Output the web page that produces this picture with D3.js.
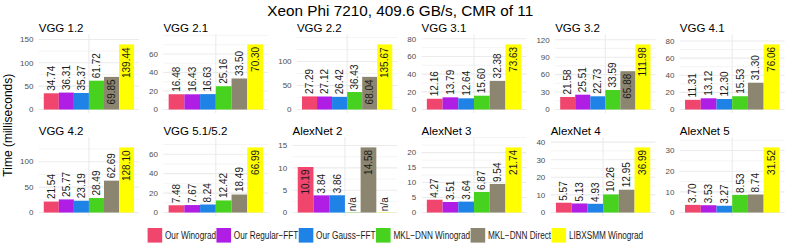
<!DOCTYPE html>
<html><head><meta charset="utf-8">
<script src="https://cdn.jsdelivr.net/npm/d3@7"></script>
<style>
body{margin:0;background:#fff}
svg{display:block}
text{font-family:"Liberation Sans",Arial,Helvetica,sans-serif}
</style>
</head><body>
<svg id="c" width="789" height="247"></svg>
<script>
const chartTitle = "Xeon Phi 7210, 409.6 GB/s, CMR of 11";
const yAxisTitle = "Time (milliseconds)";
const panelNames = ["VGG 1.2","VGG 2.1","VGG 2.2","VGG 3.1","VGG 3.2","VGG 4.1",
                    "VGG 4.2","VGG 5.1/5.2","AlexNet 2","AlexNet 3","AlexNet 4","AlexNet 5"];
const seriesNames = ["Our Winograd","Our Regular\u2212FFT","Our Gauss\u2212FFT","MKL\u2212DNN Winograd","MKL\u2212DNN Direct","LIBXSMM Winograd"];
const ourWinograd   = [34.74,16.48,27.29,12.16,21.58,11.31,21.54,7.48,10.19,4.27,5.57,3.70];
const ourRegularFFT = [36.31,16.43,27.12,13.79,25.51,13.12,25.77,7.67,3.84,3.51,5.13,3.53];
const ourGaussFFT   = [35.37,16.63,26.42,12.64,22.73,12.30,23.19,8.24,3.86,3.64,4.93,3.27];
const mklWinograd   = [61.72,25.16,36.43,15.60,33.59,15.53,28.49,12.42,null,6.87,10.26,8.53];
const mklDirect     = [69.85,33.50,68.04,32.38,65.88,31.30,62.69,18.49,14.58,9.54,12.95,8.74];
const libxsmm       = [139.44,70.30,135.67,73.63,111.98,76.06,128.10,66.99,null,21.74,36.99,31.52];
const yTicks = [[0,50,100,150],[0,20,40,60],[0,50,100],[0,20,40,60,80],[0,30,60,90,120],[0,20,40,60,80],
                [0,50,100],[0,20,40,60],[0,5,10,15],[0,5,10,15,20],[0,10,20,30,40],[0,10,20,30]];
const seriesColors = ["#F0466E","#B01EE6","#1E82E6","#46D21E","#8C8670","#FFFF00"];

const seriesValues = [ourWinograd, ourRegularFFT, ourGaussFFT, mklWinograd, mklDirect, libxsmm];

const svg = d3.select("#c");
const cellPitch = 129.1, cellLeft0 = 20, cellInner = 119.1;
const rowTop = [34.3, 137.3], panelH = 78.8;

svg.append("text").attr("x",400.3).attr("y",15.5).attr("text-anchor","middle")
  .style("font-size","15.3px").attr("fill","#000").text(chartTitle);
svg.append("text").attr("transform","translate(12.3,125.2) rotate(-90)").attr("text-anchor","middle")
  .style("font-size","12px").attr("fill","#000").text(yAxisTitle);

function minorBreaks(b, lo, hi){
  const bd = b[1]-b[0];
  let bb = b.slice();
  if (lo < bb[0]) bb.unshift(bb[0]-bd);
  if (hi > bb[bb.length-1]) bb.push(bb[bb.length-1]+bd);
  const out=[];
  for(let k=0;k<bb.length-1;k++){ out.push(bb[k], (bb[k]+bb[k+1])/2); }
  out.push(bb[bb.length-1]);
  return out.filter(v=>v>=lo && v<=hi && !b.includes(v));
}

panelNames.forEach((name,i)=>{
  const col=i%6, row=Math.floor(i/6);
  const cellLeft = cellLeft0 + col*cellPitch;
  const top = rowTop[row], bottom = top + panelH;
  const vals = seriesValues.map(s=>s[i]);
  const D = d3.max(vals)*1.1;
  const y = d3.scaleLinear().domain([-0.05*D, 1.05*D]).range([bottom, top]);
  const g = svg.append("g");
  const gridG = g.append("g"), barG = g.append("g"), labG = g.append("g"), axG = g.append("g");

  const tl = axG.selectAll("text").data(yTicks[i]).join("text")
    .style("font-size","8px").attr("fill","#4D4D4D").attr("text-anchor","end")
    .attr("dy","0.35em").attr("y",d=>y(d)).text(d=>d);
  let maxW = 0; tl.each(function(){ maxW = Math.max(maxW, this.getComputedTextLength()); });
  tl.attr("x", cellLeft + maxW);
  const pLeft = cellLeft + maxW + 5.4, pRight = cellLeft + cellInner;
  const pw = pRight - pLeft;

  const [lo, hi] = y.domain();
  gridG.selectAll("line.mn").data(minorBreaks(yTicks[i], lo, hi)).join("line").attr("class","mn")
    .attr("x1",pLeft).attr("x2",pRight).attr("y1",d=>y(d)).attr("y2",d=>y(d))
    .attr("stroke","#EDEDED").attr("stroke-width",0.6);
  gridG.selectAll("line.mj").data(yTicks[i]).join("line").attr("class","mj")
    .attr("x1",pLeft).attr("x2",pRight).attr("y1",d=>y(d)).attr("y2",d=>y(d))
    .attr("stroke","#EBEBEB").attr("stroke-width",1.1);
  gridG.append("line").attr("x1",(pLeft+pRight)/2).attr("x2",(pLeft+pRight)/2)
    .attr("y1",top).attr("y2",bottom).attr("stroke","#EBEBEB").attr("stroke-width",1.1);

  const x = d3.scaleBand().domain(seriesNames).range([pLeft+0.05*pw, pRight-0.05*pw]).padding(0);
  const data = seriesNames.map((s,k)=>({s, k, v: vals[k]}));
  barG.selectAll("rect").data(data).join("rect")
    .attr("x",d=>x(d.s)).attr("width",x.bandwidth())
    .attr("y",d=>d.v==null? y(0)-0.4 : y(d.v))
    .attr("height",d=>d.v==null? 0.8 : y(0)-y(d.v))
    .attr("fill",d=>seriesColors[d.k]).attr("opacity",d=>d.v==null?0.35:1);

  const maxV = d3.max(vals);
  labG.selectAll("text").data(data).join("text")
    .style("font-size","10px").attr("fill","#1A1A1A").attr("dy","0.35em")
    .text(d=>d.v==null ? "n/a" : d.v.toFixed(2))
    .each(function(d){
      const L = this.getComputedTextLength();
      const cx = x(d.s) + x.bandwidth()/2;
      const v = d.v==null ? 0 : d.v;
      const inside = d.v!=null && d.v > maxV/2;
      const yy = inside ? y(v) + 0.1*L : y(v) - 0.1*L;
      d3.select(this).attr("text-anchor", inside ? "end" : "start")
        .attr("transform",`translate(${cx},${yy}) rotate(-90)`);
    });

  g.append("text").attr("x",pLeft).attr("y",top-2.3).style("font-size","11.5px")
    .attr("fill","#000").text(name);
});

// legend (condensed text like the reference)
const lg = svg.append("g");
let lx = 0;
seriesNames.forEach((s,k)=>{
  lg.append("rect").attr("x",lx).attr("y",228).attr("width",14.6).attr("height",14.6).attr("fill",seriesColors[k]);
  const t = lg.append("text").attr("x",lx+14.6+2.8).attr("y",239.2)
    .style("font-size","10px").attr("fill","#1A1A1A").text(s);
  const w = t.node().getComputedTextLength()*0.82;
  t.attr("textLength", w).attr("lengthAdjust","spacingAndGlyphs");
  lx += 14.6 + 2.8 + w + 0.4;
});
lg.attr("transform",`translate(${395.6 - lx/2},0)`);
</script>
</body></html>
